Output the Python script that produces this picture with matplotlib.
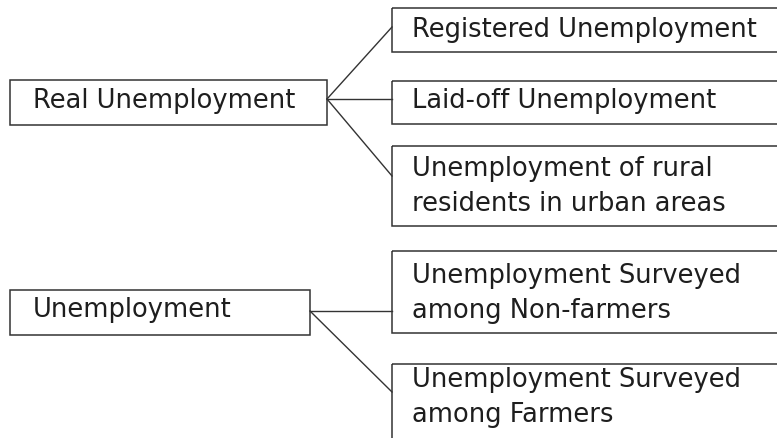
import matplotlib
matplotlib.use("Agg")
import matplotlib.pyplot as plt
from matplotlib.patches import Rectangle

# labels of the two trees
parents = ["Real Unemployment", "Unemployment"]
children = [
    ["Registered Unemployment", "Laid-off Unemployment",
     "Unemployment of rural\nresidents in urban areas"],
    ["Unemployment Surveyed\namong Non-farmers",
     "Unemployment Surveyed\namong Farmers"],
]

# layout in pixel coordinates (x0, y0, x1, y1), y downwards
parent_boxes = [(10, 81, 327, 126), (10, 291, 310, 336)]
parent_text_y = [101, 310]
anchor_y = [100, 312]
child_boxes = [
    [(392, 9, 800, 53), (392, 82, 800, 125), (392, 147, 800, 227)],
    [(392, 252, 800, 334), (392, 365, 800, 460)],
]
child_text_y = [[30, 101, 187], [294, 398]]
link_y = [[28, 100, 177], [312, 393]]

W, H = 777, 439
LINE = "#333333"
TEXT = "#1e1e1e"
FS = 18.5

fig = plt.figure(figsize=(W / 100, H / 100), dpi=100)
ax = fig.add_axes([0, 0, 1, 1])
ax.set_xlim(0, W)
ax.set_ylim(H, 0)
ax.axis("off")


def box(ax, b):
    x0, y0, x1, y1 = b
    ax.add_patch(Rectangle((x0, y0), x1 - x0, y1 - y0, fill=False,
                           edgecolor=LINE, linewidth=1.1, clip_on=True))


for i, label in enumerate(parents):
    pb = parent_boxes[i]
    box(ax, pb)
    ax.text(pb[0] + 23, parent_text_y[i], label, fontsize=FS, color=TEXT,
            ha="left", va="center", linespacing=1.45)
    for j, child in enumerate(children[i]):
        cb = child_boxes[i][j]
        box(ax, cb)
        ax.plot([pb[2], cb[0]], [anchor_y[i], link_y[i][j]], color=LINE,
                linewidth=1.0)
        ax.text(cb[0] + 20, child_text_y[i][j], child, fontsize=FS,
                color=TEXT, ha="left", va="center", linespacing=1.45)

fig.savefig("out.png", dpi=100)
